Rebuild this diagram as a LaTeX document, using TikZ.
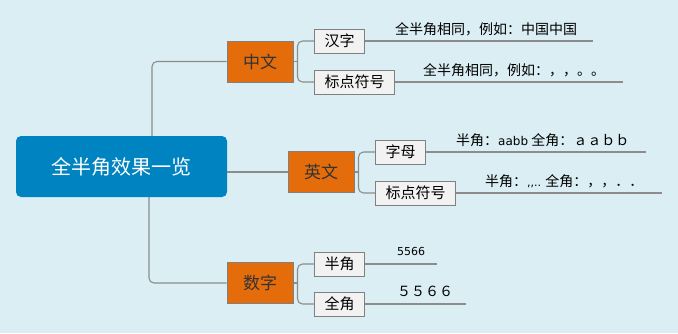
\documentclass[tikz,border=0pt]{standalone}
\usepackage{fontspec}
\newfontfamily\cjk{Noto Sans CJK SC}
\newfontfamily\lat{DejaVu Sans}
\definecolor{bg}{HTML}{DBEEF4}
\definecolor{rootblue}{HTML}{0083C1}
\definecolor{orng}{HTML}{E46C0A}
\definecolor{subfill}{HTML}{F2F2F2}
\definecolor{edge}{HTML}{808080}
\definecolor{conncol}{HTML}{8C8C8C}
\tikzset{
  x=1pt, y=-1pt,
  rootbox/.style={fill=rootblue, draw=none, rounded corners=5pt, minimum width=211pt, minimum height=61pt, inner sep=0pt, text=white, font=\cjk\fontsize{20}{24}\selectfont},
  branchbox/.style={fill=orng, draw=edge, line width=1pt, minimum width=66pt, minimum height=41pt, inner sep=0pt, text=black!80, font=\cjk\fontsize{17}{20}\selectfont},
  subbox/.style={fill=subfill, draw=edge, line width=1pt, minimum height=24pt, inner xsep=10pt, inner ysep=0pt, anchor=west, font=\cjk\fontsize{15}{18}\selectfont},
  conn/.style={draw=conncol, line width=1.1pt, rounded corners=5pt},
  leaf/.style={inner sep=0pt, anchor=base west, font=\cjk\fontsize{14}{16}\selectfont},
}
\begin{document}
\begin{tikzpicture}
\useasboundingbox (0,0) rectangle (678,333);
\fill[bg] (0,0) rectangle (678,333);

% nodes
\node[rootbox] (root) at (121.5,166.5) {全半角效果一览};
\node[branchbox] (zw) at (260,61.5) {中文};
\node[branchbox] (yw) at (321,172) {英文};
\node[branchbox] (sz) at (260,283) {数字};

\node[subbox] (hz) at (314,41) {汉字};
\node[subbox] (bd) at (314,82) {标点符号};
\node[subbox] (zm) at (375,152) {字母};
\node[subbox] (bd2) at (375,193) {标点符号};
\node[subbox] (bj) at (314,264) {半角};
\node[subbox] (qj) at (314,304) {全角};

% leaf line ends
\coordinate (hzend) at (593,41);
\coordinate (bdend) at (623,82);
\coordinate (zmend) at (646,152);
\coordinate (bd2end) at (662,193);
\coordinate (bjend) at (437,264);
\coordinate (qjend) at (466,304);

% root connectors
\draw[conn] ([xshift=30.5pt]root.north) |- (zw.west);
\draw[conn] ([xshift=27.5pt]root.south) |- (sz.west);
\draw[conn] (root.east |- yw.west) -- (yw.west);

% brackets
\coordinate (zwb) at ([xshift=4pt]zw.east);
\coordinate (ywb) at ([xshift=4pt]yw.east);
\coordinate (szb) at ([xshift=4pt]sz.east);
\draw[conn] (zw.east) -- (zwb);
\draw[conn] (hz.west) -| (zwb) |- (bd.west);
\draw[conn] (yw.east) -- (ywb);
\draw[conn] (zm.west) -| (ywb) |- (bd2.west);
\draw[conn] (sz.east) -- (szb);
\draw[conn] (bj.west) -| (szb) |- (qj.west);

% leaf lines
\draw[conn] (hz.east) -- (hzend);
\draw[conn] (bd.east) -- (bdend);
\draw[conn] (zm.east) -- (zmend);
\draw[conn] (bd2.east) -- (bd2end);
\draw[conn] (bj.east) -- (bjend);
\draw[conn] (qj.east) -- (qjend);

% leaf texts
\node[leaf] (t1) at (395,34) {全半角相同，例如：中国中国};
\node[leaf] (t2) at (423,75) {全半角相同，例如：，，。。};
\node[leaf] (t3) at (456,145) {半角：{\lat\fontsize{12}{14}\selectfont aabb} 全角：ａａｂｂ};
\node[leaf] (t4) at (485,186) {半角：{\lat\fontsize{11}{13}\selectfont ,,..} 全角：，，．．};
\node[leaf, font=\lat\fontsize{11}{13}\selectfont] (t5) at (397,255) {5566};
\node[leaf] (t6) at (397,296) {５５６６};
\end{tikzpicture}
\end{document}
